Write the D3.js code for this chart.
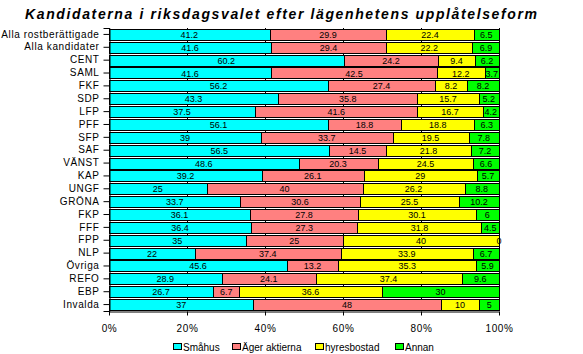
<!DOCTYPE html>
<html>
<head>
<meta charset="utf-8">
<script src="https://cdn.jsdelivr.net/npm/d3@7"></script>
<style>
  body { margin: 0; background: #fff; }
  svg text { font-family: "Liberation Sans", Arial, sans-serif; }
</style>
</head>
<body>
<div id="chart"></div>
<script>
// Categories (top to bottom)
const categories = ['Alla rostberättigade', 'Alla kandidater', 'CENT', 'SAML', 'FKF', 'SDP', 'LFP',
  'PFF', 'SFP', 'SAF', 'VÄNST', 'KAP', 'UNGF', 'GRÖNA', 'FKP', 'FFF', 'FPP', 'NLP', 'Övriga',
  'REFO', 'EBP', 'Invalda'];

// Series values (percent)
const smahus = [41.2, 41.6, 60.2, 41.6, 56.2, 43.3, 37.5, 56.1, 39, 56.5, 48.6, 39.2, 25, 33.7, 36.1, 36.4, 35, 22, 45.6, 28.9, 26.7, 37];
const agerAktierna = [29.9, 29.4, 24.2, 42.5, 27.4, 35.8, 41.6, 18.8, 33.7, 14.5, 20.3, 26.1, 40, 30.6, 27.8, 27.3, 25, 37.4, 13.2, 24.1, 6.7, 48];
const hyresbostad = [22.4, 22.2, 9.4, 12.2, 8.2, 15.7, 16.7, 18.8, 19.5, 21.8, 24.5, 29, 26.2, 25.5, 30.1, 31.8, 40, 33.9, 35.3, 37.4, 36.6, 10];
const annan = [6.5, 6.9, 6.2, 3.7, 8.2, 5.2, 4.2, 6.3, 7.8, 7.2, 6.6, 5.7, 8.8, 10.2, 6, 4.5, 0, 6.7, 5.9, 9.6, 30, 5];

const seriesNames = ['Småhus', 'Äger aktierna', 'hyresbostad', 'Annan'];
const seriesColors = ['#00FFFF', '#FF8080', '#FFFF00', '#00FF00'];
const xTicks = [0, 20, 40, 60, 80, 100];

const width = 583, height = 354;
const margin = { left: 109, right: 84, top: 28, bottom: 43 };

const svg = d3.select('#chart').append('svg')
  .attr('width', width)
  .attr('height', height);

svg.append('text')
  .attr('x', 25)
  .attr('y', 19)
  .attr('textLength', 512)
  .attr('lengthAdjust', 'spacing')
  .style('font-size', '14px')
  .style('font-weight', 'bold')
  .style('font-style', 'italic')
  .text('Kandidaterna i riksdagsvalet efter lägenhetens upplåtelseform');

const x = d3.scaleLinear()
  .domain([0, 100])
  .range([margin.left, width - margin.right]);

const y = d3.scaleBand()
  .domain(categories)
  .range([margin.top, height - margin.bottom])
  .paddingInner(0.14)
  .paddingOuter(0.07);

// Gridlines
svg.append('g')
  .selectAll('line')
  .data(xTicks.slice(1))
  .join('line')
  .attr('x1', d => x(d) + 0.5)
  .attr('x2', d => x(d) + 0.5)
  .attr('y1', margin.top)
  .attr('y2', height - margin.bottom)
  .attr('stroke', '#000')
  .attr('stroke-width', 1);

// Stack data
const rows = categories.map((c, i) => ({
  cat: c,
  'Småhus': smahus[i],
  'Äger aktierna': agerAktierna[i],
  'hyresbostad': hyresbostad[i],
  'Annan': annan[i]
}));
const stacked = d3.stack().keys(seriesNames)(rows);

const layer = svg.append('g')
  .selectAll('g')
  .data(stacked)
  .join('g')
  .attr('fill', (d, i) => seriesColors[i]);

layer.selectAll('rect')
  .data(d => d)
  .join('rect')
  .attr('x', d => Math.round(x(d[0])) + 0.5)
  .attr('y', d => Math.round(y(d.data.cat)) + 0.5)
  .attr('width', d => Math.max(0, Math.round(x(d[1])) - Math.round(x(d[0]))))
  .attr('height', Math.round(y.bandwidth()))
  .attr('stroke', '#000')
  .attr('stroke-width', 1);

// Value labels
layer.selectAll('text')
  .data((d, i) => d.map(p => ({ p, key: d.key })))
  .join('text')
  .attr('x', d => (x(d.p[0]) + x(d.p[1])) / 2)
  .attr('y', d => y(d.p.data.cat) + y.bandwidth() / 2 + 3.5)
  .attr('text-anchor', 'middle')
  .attr('fill', '#000')
  .style('font-size', '9px')
  .text(d => d.p.data[d.key]);

// Y axis
const yAxis = svg.append('g')
  .attr('transform', `translate(${margin.left + 0.5},0)`)
  .call(d3.axisLeft(y).tickSize(6).tickPadding(4));
yAxis.select('.domain').attr('stroke', '#000');
yAxis.selectAll('text')
  .style('font-size', '10px')
  .style('letter-spacing', '0.6px')
  .attr('fill', '#000');

// X axis
const xAxis = svg.append('g')
  .attr('transform', `translate(0,${height - margin.bottom + 0.5})`)
  .call(d3.axisBottom(x).tickValues(xTicks).tickFormat(d => d + '%').tickSize(4).tickPadding(9).tickSizeOuter(0));
xAxis.selectAll('text')
  .style('font-size', '10px')
  .style('letter-spacing', '0.6px')
  .attr('fill', '#000');

// Legend
const legendX = [173, 232, 315, 395];
const legend = svg.append('g')
  .selectAll('g')
  .data(seriesNames)
  .join('g')
  .attr('transform', (d, i) => `translate(${legendX[i]},${343})`);
legend.append('rect')
  .attr('x', 0.5)
  .attr('y', 0.5)
  .attr('width', 8)
  .attr('height', 6)
  .attr('fill', (d, i) => seriesColors[i])
  .attr('stroke', '#000');
legend.append('text')
  .attr('x', 10)
  .attr('y', 8)
  .style('font-size', '10px')
  .text(d => d);
</script>
</body>
</html>
